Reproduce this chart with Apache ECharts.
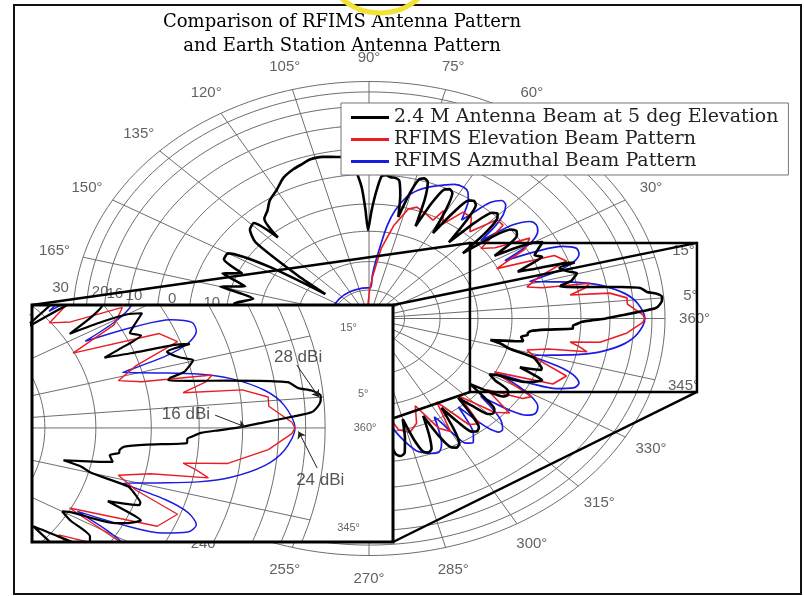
<!DOCTYPE html>
<html><head><meta charset="utf-8">
<script src="https://cdn.jsdelivr.net/npm/echarts@6/dist/echarts.min.js"></script>
<style>html,body{margin:0;padding:0;background:#fff}#chart{width:804px;height:596px}</style>
</head><body><div id="chart"></div>
<script>
// ================= DATA =================
const titleLines = ['Comparison of RFIMS Antenna Pattern', 'and Earth Station Antenna Pattern'];
const seriesNames = ['2.4 M Antenna Beam at 5 deg Elevation', 'RFIMS Elevation Beam Pattern', 'RFIMS Azmuthal Beam Pattern'];
// rings of the polar grid (normalised radius)
const ringRadii = [0.12, 0.24, 0.368, 0.483, 0.608, 0.716, 0.814, 0.895, 0.956, 1.0];
// full diameters of the polar grid, degrees
const spokeAngles = [0, 15, 30, 45, 60, 75, 90, 105, 120, 135, 150, 165];
const extraSpokes = [5];
// angle tick labels
const angleTicks = [0, 15, 30, 45, 60, 75, 90, 105, 120, 135, 150, 165, 180, 195, 210, 225, 240, 255, 270, 285, 300, 315, 330, 345];
const angleTickLabels = ['360°', '15°', '30°', '45°', '60°', '75°', '90°', '105°', '120°', '135°', '150°', '165°', '180°', '195°', '210°', '225°', '240°', '255°', '270°', '285°', '300°', '315°', '330°', '345°'];
const extraTicks = [5];
const extraTickLabels = ['5°'];
const insetTicks = [15, 5, 0, 345];
const insetTickLabels = ['15°', '5°', '360°', '345°'];
// radial tick labels (along ~173°)
const radialTickLabels = ['30', '20', '16', '10', '0', '10'];
const radialTickRadii = [1.05, 0.915, 0.865, 0.80, 0.67, 0.535];
const radialTickAngle = 173;

// patterns: [angle in degrees, normalised radius]
const blackPattern = [
  [-100,.2],[-92,.3],[-88,.32],[-84,.40],[-82.5,.52],[-81,.58],[-79.5,.59],[-78,.58],[-76.5,.52],
  [-75,.44],[-73.5,.53],[-72,.59],[-70.5,.60],[-69,.59],[-67.5,.53],
  [-66,.45],[-64.5,.55],[-63,.61],[-61.5,.62],[-60,.61],[-58.5,.55],
  [-57,.45],[-55.5,.53],[-54,.59],[-52.5,.60],[-51,.59],[-49.5,.53],
  [-48,.45],[-46.5,.51],[-45,.57],[-43.5,.58],[-42,.57],[-40.5,.51],
  [-39,.44],[-37.5,.50],[-36,.56],[-34.5,.57],[-33,.56],[-31.5,.50],
  [-30,.47],[-29,.49],[-27,.59],[-25.5,.62],[-24,.64],[-23,.60],
  [-22,.55],[-20.5,.62],[-19.8,.62],[-18,.60],[-16.5,.58],[-15,.49],
  [-13.5,.46],[-12.5,.42],[-11,.50],[-10.4,.53],[-8.5,.52],[-7.5,.54],[-6.6,.54],[-5.5,.55],[-4.5,.60],
  [-3.5,.69],[-2.5,.69],[-2,.70],[-1.1,.72],[-0.5,.76],[0,.80],[1,.86],[2,.93],[2.6,.97],[3.5,.985],
  [4.5,.993],[5.3,.994],[6.2,.975],[6.8,.946],[8,.925],[8.9,.858],[9.7,.79],[10.6,.72],[11.6,.66],[12.2,.665],
  [13,.70],[14.3,.718],[15.2,.728],[16.5,.70],[18.4,.678],[18.8,.734],[19.5,.70],[20.5,.60],[21.5,.54],
  [22.5,.58],[24,.64],[25.5,.62],[27,.64],[28.8,.67],[30,.64],[31,.58],[32,.50],
  [33.5,.57],[35,.61],[36.5,.62],[38,.61],[39.5,.55],[41,.42],
  [42.5,.53],[44,.60],[45.5,.62],[47,.61],[48.5,.54],[50,.42],
  [51.5,.53],[53,.60],[54.5,.61],[56,.60],[57.5,.53],[59,.42],
  [60.5,.53],[62,.60],[63.5,.61],[65,.60],[66.5,.53],[68,.42],
  [69.5,.54],[71,.61],[72.5,.62],[74,.61],[75.5,.54],[77,.44],
  [78.5,.53],[80,.59],[81.5,.60],[83,.60],[84.5,.607],[86,.60],[87.5,.53],[89,.45],[90.5,.373],
  [91.5,.46],[92.5,.55],[93.5,.60],[95.4,.684],[99,.69],[103,.70],[106.6,.70],[109,.69],[112,.68],
  [116,.66],[120,.625],[124,.60],[127,.57],[130,.55],[132,.46],[134,.56],[137,.55],[140,.50],
  [143,.30],[145,.18],[147,.40],[150,.55],[153,.55],[156,.47],[159,.53],[162,.44],[165,.52],
  [168,.40],[172,.46],[176,.30],[180,.22],[200,.2],[230,.2],[260,.2]];
const redPattern = [
  [-89,.1],[-86,.25],[-82,.40],[-78,.48],[-74,.50],[-70,.47],[-67,.40],[-63,.52],[-60,.55],[-57,.42],
  [-53,.56],[-50,.58],[-47,.45],[-43,.58],[-40,.62],[-37,.50],[-33,.62],[-31,.64],[-28,.48],
  [-24,.68],[-20,.71],[-17,.60],[-14,.55],[-12,.62],[-10.8,.75],[-9.5,.72],[-8.3,.687],[-7.3,.787],
  [-4,.874],[-1,.925],[0,.932],[1,.925],[4,.875],[5.7,.876],[7.5,.82],[8.3,.687],[10,.741],[11.3,.76],
  [12.5,.60],[14,.55],[17,.60],[20,.71],[23,.68],[26,.48],[29,.60],[32,.64],[35,.52],[38,.48],
  [41,.60],[44,.60],[47,.50],[51,.55],[54.7,.55],[58,.47],[61,.52],[62.5,.468],[66,.48],[71,.497],
  [74,.48],[78,.40],[82,.30],[86,.18],[89,.12],[95,.05],[180,.05],[271,.1]];
const bluePattern = [
  [-88,.13],[-86.5,.19],[-85,.27],[-83,.36],[-80,.47],[-77,.53],[-74,.58],[-71,.60],[-69,.61],[-67,.61],
  [-65,.58],[-63.5,.53],[-62,.47],[-61,.50],[-59.5,.57],[-58,.62],[-56,.63],[-54,.60],[-52.5,.55],[-51,.48],
  [-50,.55],[-49,.61],[-47.5,.65],[-46,.65],[-44,.62],[-42.5,.57],[-41,.50],
  [-40,.56],[-39,.62],[-37.5,.67],[-35.5,.69],[-33,.68],[-31,.64],[-29.5,.58],[-28,.50],
  [-26.5,.62],[-25,.70],[-23,.75],[-21,.76],[-19,.73],[-17.5,.67],[-16,.565],
  [-14,.64],[-12,.73],[-10,.80],[-7,.87],[-4,.91],[0,.932],[4,.91],[7,.87],[10,.80],[12,.73],[14,.64],
  [16,.565],[17.5,.67],[19,.73],[21,.76],[23,.76],[25,.72],[26.5,.64],[28,.52],
  [29.5,.60],[31,.65],[33,.68],[35,.69],[37,.68],[39,.63],[40,.57],[41,.50],
  [42.5,.58],[44,.63],[46,.665],[48,.67],[50,.64],[51.5,.58],[53,.52],
  [54.5,.56],[56,.60],[58,.63],[60,.64],[63,.635],[66,.616],[70,.59],[73,.566],[76,.53],[79,.465],
  [81,.40],[83,.304],[85,.23],[86.5,.18],[88,.13],[100,.13],[120,.13],[140,.13],[160,.13],[180,.13],
  [200,.13],[220,.13],[240,.13],[260,.13],[272,.13]];
// inset annotations: text, target [angle, radius]
const annotationTexts = ['28 dBi', '16 dBi', '24 dBi'];
const annotationTargets = [[5, 0.99], [0.2, 0.82], [-0.6, 0.94]];

// ================= LAYOUT =================
const L = {
  cx: 369, cy: 318.5, rx: 296, ry: 237,
  main: { xmin: -1.2, xmax: 1.45, ymin: -1.15, ymax: 1.3 },
  inset: { left: 32, top: 305, width: 361, height: 237 },
  insetRange: { xmin: 0.339, xmax: 1.153, ymin: -0.321, ymax: 0.346 },
  zoomRect: { xmin: 0.341, xmax: 1.108, ymin: -0.310, ymax: 0.319 },
  labelK: 1.1, insetLabelK: 1.09,
  annText: [[0.939, 0.20], [0.686, 0.037], [0.989, -0.146]],
  annFrom: [[0.936, 0.177], [0.752, 0.036], [0.982, -0.113]]
};
const COLORS = { black: '#000000', red: '#ea1c24', blue: '#1c1ce0', grid: '#6e6e6e', label: '#3a3a3a' };
const SERIF = '"DejaVu Serif"';

const rad = d => d * Math.PI / 180;
const toXY = (a, r) => [r * Math.cos(rad(a)), r * Math.sin(rad(a))];
const mainPx = (x, y) => [L.cx + x * L.rx, L.cy - y * L.ry];

const chart = echarts.init(document.getElementById('chart'), null, { renderer: 'canvas' });

function gridSeries(idx, z, lw) {
  const out = [];
  ringRadii.forEach(r => {
    const d = [];
    for (let a = 0; a <= 360; a += 2) d.push(toXY(a, r));
    out.push({ type: 'line', xAxisIndex: idx, yAxisIndex: idx, data: d, showSymbol: false, silent: true,
      lineStyle: { color: COLORS.grid, width: lw }, z, clip: idx === 1, animation: false });
  });
  spokeAngles.forEach(a => {
    out.push({ type: 'line', xAxisIndex: idx, yAxisIndex: idx, data: [toXY(a, 1), toXY(a + 180, 1)], showSymbol: false, silent: true,
      lineStyle: { color: COLORS.grid, width: lw }, z, clip: idx === 1, animation: false });
  });
  extraSpokes.forEach(a => {
    out.push({ type: 'line', xAxisIndex: idx, yAxisIndex: idx, data: [toXY(a, 0), toXY(a, 1)], showSymbol: false, silent: true,
      lineStyle: { color: COLORS.grid, width: lw }, z, clip: idx === 1, animation: false });
  });
  return out;
}
function curveSeries(idx, z, scale) {
  const defs = [
    { name: seriesNames[2], data: bluePattern, color: COLORS.blue, w: 1.7, smooth: 0.3 },
    { name: seriesNames[1], data: redPattern, color: COLORS.red, w: 1.6, smooth: false },
    { name: seriesNames[0], data: blackPattern, color: COLORS.black, w: 2.6, smooth: 0.2 }
  ];
  return defs.map(d => ({
    type: 'line', name: d.name, xAxisIndex: idx, yAxisIndex: idx,
    data: d.data.map(p => toXY(p[0], p[1])), showSymbol: false, smooth: d.smooth,
    lineStyle: { color: d.color, width: d.w * scale }, itemStyle: { color: d.color },
    z, clip: idx === 1, animation: false
  }));
}
function labelSeries(idx, z, ticks, labels, k, size) {
  return {
    type: 'scatter', xAxisIndex: idx, yAxisIndex: idx, z, silent: true, animation: false,
    symbolSize: 1, itemStyle: { color: 'rgba(0,0,0,0)' },
    data: ticks.map((a, i) => ({ name: labels[i], value: toXY(a, k) })),
    label: { show: true, position: 'inside', formatter: '{b}', fontSize: size, color: COLORS.label, fontFamily: 'Liberation Sans' }
  };
}

const mainW = (L.main.xmax - L.main.xmin) * L.rx, mainH = (L.main.ymax - L.main.ymin) * L.ry;
const series = [];
series.push(...gridSeries(0, 1, 1));
series.push(...curveSeries(0, 2, 1));
series.push(labelSeries(0, 2, angleTicks, angleTickLabels, L.labelK, 15));
series.push(labelSeries(0, 2, extraTicks, extraTickLabels, 1.09, 15));
series.push({
  type: 'scatter', xAxisIndex: 0, yAxisIndex: 0, z: 2, silent: true, animation: false, symbolSize: 1,
  itemStyle: { color: 'rgba(0,0,0,0)' },
  data: radialTickRadii.map((r, i) => ({ name: radialTickLabels[i], value: toXY(radialTickAngle, r) })),
  label: { show: true, position: 'inside', formatter: '{b}', fontSize: 15, color: COLORS.label, fontFamily: 'Liberation Sans' }
});
// inset
series.push(...gridSeries(1, 11, 1));
series.push(...curveSeries(1, 12, 0.85));
series.push(labelSeries(1, 13, insetTicks, insetTickLabels, L.insetLabelK, 11));
series.push({
  type: 'lines', coordinateSystem: 'cartesian2d', xAxisIndex: 1, yAxisIndex: 1, z: 13, silent: true, animation: false,
  symbol: ['none', 'arrow'], symbolSize: 7,
  lineStyle: { color: '#222', width: 1, opacity: 1 },
  data: annotationTargets.map((t, i) => ({ coords: [L.annFrom[i], toXY(t[0], t[1])] }))
});
series.push({
  type: 'scatter', xAxisIndex: 1, yAxisIndex: 1, z: 13, silent: true, animation: false, symbolSize: 1,
  itemStyle: { color: 'rgba(0,0,0,0)' },
  data: annotationTexts.map((t, i) => ({ name: t, value: L.annText[i] })),
  label: { show: true, position: 'inside', formatter: '{b}', fontSize: 17, color: '#2a2a2a', fontFamily: 'Liberation Sans' }
});

// graphics
const zr = L.zoomRect;
const rTL = mainPx(zr.xmin, zr.ymax), rBR = mainPx(zr.xmax, zr.ymin);
const rTR = [rBR[0], rTL[1]], rBL = [rTL[0], rBR[1]];
const I = L.inset;
const iTL = [I.left, I.top], iTR = [I.left + I.width, I.top], iBR = [I.left + I.width, I.top + I.height], iBL = [I.left, I.top + I.height];
const conn = [[iTL, rTL], [iTR, rTR], [iBR, rBR], [iBL, rBL]];
const graphics = [];
conn.forEach(c => graphics.push({ type: 'line', z: 5, silent: true,
  shape: { x1: c[0][0], y1: c[0][1], x2: c[1][0], y2: c[1][1] }, style: { stroke: '#000', lineWidth: 2.5 } }));
graphics.push({ type: 'rect', z: 6, silent: true, shape: { x: rTL[0], y: rTL[1], width: rBR[0] - rTL[0], height: rBR[1] - rTL[1] },
  style: { fill: 'none', stroke: '#000', lineWidth: 2.5 } });
graphics.push({ type: 'rect', z: 10, silent: true, shape: { x: I.left, y: I.top, width: I.width, height: I.height }, style: { fill: '#fff' } });
graphics.push({ type: 'rect', z: 14, silent: true, shape: { x: I.left, y: I.top, width: I.width, height: I.height },
  style: { fill: 'none', stroke: '#000', lineWidth: 3 } });
graphics.push({ type: 'text', z: 20, silent: true, style: { text: titleLines.join('\n'), x: 342, y: 10, textAlign: 'center', textVerticalAlign: 'top',
  font: '18px ' + SERIF, lineHeight: 24, fill: '#000' } });
graphics.push({ type: 'rect', z: 20, silent: true, shape: { x: 14, y: 5, width: 787, height: 589 }, style: { fill: 'none', stroke: '#111', lineWidth: 2 } });
graphics.push({ type: 'circle', z: 20, silent: true, shape: { cx: 380, cy: -45, r: 58 }, style: { fill: 'none', stroke: '#f2e236', lineWidth: 5 } });

chart.setOption({
  animation: false,
  backgroundColor: '#fff',
  grid: [
    { left: L.cx + L.main.xmin * L.rx, top: L.cy - L.main.ymax * L.ry, width: mainW, height: mainH, show: false },
    { left: I.left, top: I.top, width: I.width, height: I.height, show: false }
  ],
  xAxis: [
    { type: 'value', gridIndex: 0, min: L.main.xmin, max: L.main.xmax, show: false },
    { type: 'value', gridIndex: 1, min: L.insetRange.xmin, max: L.insetRange.xmax, show: false }
  ],
  yAxis: [
    { type: 'value', gridIndex: 0, min: L.main.ymin, max: L.main.ymax, show: false },
    { type: 'value', gridIndex: 1, min: L.insetRange.ymin, max: L.insetRange.ymax, show: false }
  ],
  legend: {
    data: seriesNames, orient: 'vertical', left: 341, top: 103, z: 8,
    icon: 'rect', itemWidth: 38, itemHeight: 3, itemGap: 3,
    padding: [5, 10, 4, 10], backgroundColor: '#fff', borderColor: '#777', borderWidth: 1, borderRadius: 0,
    textStyle: { fontFamily: 'DejaVu Serif', fontSize: 19, color: '#222' }, selectedMode: false
  },
  graphic: { elements: graphics },
  series
});
</script></body></html>
